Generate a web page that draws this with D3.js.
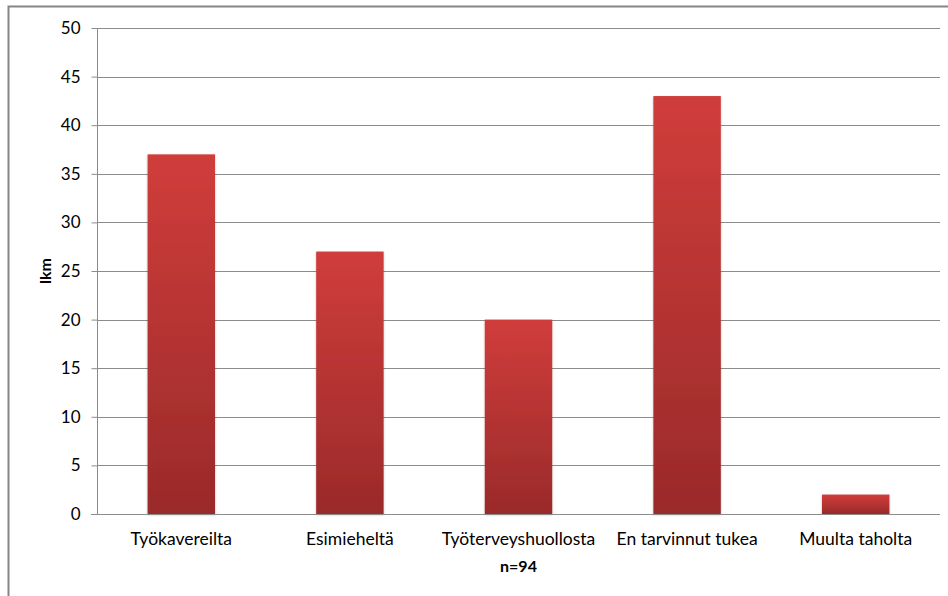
<!DOCTYPE html>
<html>
<head>
<meta charset="utf-8">
<script src="https://cdn.jsdelivr.net/npm/d3@7"></script>
<style>
  html, body { margin: 0; padding: 0; background: #fff; }
  svg { display: block; }
  text { font-family: Lato, "Open Sans", sans-serif; fill: #000; }
</style>
</head>
<body>
<script>
// Support sources
const categories = ["Työkavereilta", "Esimieheltä", "Työterveyshuollosta", "En tarvinnut tukea", "Muulta taholta"];
const counts = [37, 27, 20, 43, 2];
const yTicks = [0, 5, 10, 15, 20, 25, 30, 35, 40, 45, 50];
const yTitle = "lkm";
const xTitle = "n=94";

const W = 948, H = 596;
const margin = { left: 97, right: 8, top: 28, bottom: 82 };

const svg = d3.select("body").append("svg").attr("width", W).attr("height", H);

// bar gradient: bright red at top, darker red at the base
const defs = svg.append("defs");
const grad = defs.append("linearGradient").attr("id", "barGrad")
  .attr("x1", 0).attr("y1", 0).attr("x2", 0).attr("y2", 1);
grad.append("stop").attr("offset", "0%").attr("stop-color", "#d03d3b");
grad.append("stop").attr("offset", "100%").attr("stop-color", "#9a2a2a");
const shadow = defs.append("filter").attr("id", "barShadow")
  .attr("x", "-20%").attr("y", "-5%").attr("width", "140%").attr("height", "110%");
shadow.append("feDropShadow").attr("dx", 0).attr("dy", 1).attr("stdDeviation", 1.2)
  .attr("flood-color", "#000").attr("flood-opacity", 0.25);

// chart frame (top and left edges)
svg.append("path")
  .attr("d", `M8.5,${H} L8.5,6.5 L${W},6.5`)
  .attr("fill", "none").attr("stroke", "#858585").attr("stroke-width", 2);

const x = d3.scaleBand().domain(categories)
  .range([margin.left, W - margin.right]).paddingInner(0.6).paddingOuter(0.3);
const y = d3.scaleLinear().domain([0, 50]).range([H - margin.bottom, margin.top]);

// gridlines
svg.append("g").selectAll("line").data(yTicks.filter(d => d > 0)).join("line")
  .attr("x1", margin.left).attr("x2", W - margin.right)
  .attr("y1", d => Math.round(y(d)) + 0.5).attr("y2", d => Math.round(y(d)) + 0.5)
  .attr("stroke", "#8c8c8c").attr("stroke-width", 1);

// y axis
const yAxis = svg.append("g")
  .attr("transform", `translate(${margin.left + 0.5},0)`)
  .call(d3.axisLeft(y).tickValues(yTicks).tickSize(6).tickPadding(11));
yAxis.select(".domain").attr("stroke", "#8c8c8c").attr("d", `M0,${y(50)}V${y(0)}`);
yAxis.selectAll(".tick line").attr("stroke", "#8c8c8c");
yAxis.selectAll(".tick text").attr("font-size", 17).attr("font-family", "Lato, sans-serif").attr("fill", "#000");

// bars
svg.append("g").selectAll("rect").data(categories).join("rect")
  .attr("x", d => x(d))
  .attr("width", x.bandwidth())
  .attr("y", (d, i) => y(counts[i]))
  .attr("height", (d, i) => y(0) - y(counts[i]))
  .attr("fill", "url(#barGrad)")
  .attr("filter", "url(#barShadow)");

// x axis
const xAxis = svg.append("g")
  .attr("transform", `translate(0,${Math.round(y(0)) + 0.5})`)
  .call(d3.axisBottom(x).tickSize(0).tickPadding(18));
xAxis.select(".domain").attr("stroke", "#8c8c8c").attr("d", `M${margin.left - 6},0H${W - margin.right}`);
xAxis.selectAll(".tick text").attr("font-size", 17.5).attr("font-family", "Lato, sans-serif").attr("fill", "#000");

// axis titles
svg.append("text")
  .attr("transform", `translate(51,${(y(0) + y(50)) / 2}) rotate(-90)`)
  .attr("text-anchor", "middle").attr("font-size", 16).attr("font-weight", "bold")
  .text(yTitle);
svg.append("text")
  .attr("x", (margin.left + W - margin.right) / 2).attr("y", 572)
  .attr("text-anchor", "middle").attr("font-size", 16).attr("font-weight", "bold")
  .text(xTitle);
</script>
</body>
</html>
